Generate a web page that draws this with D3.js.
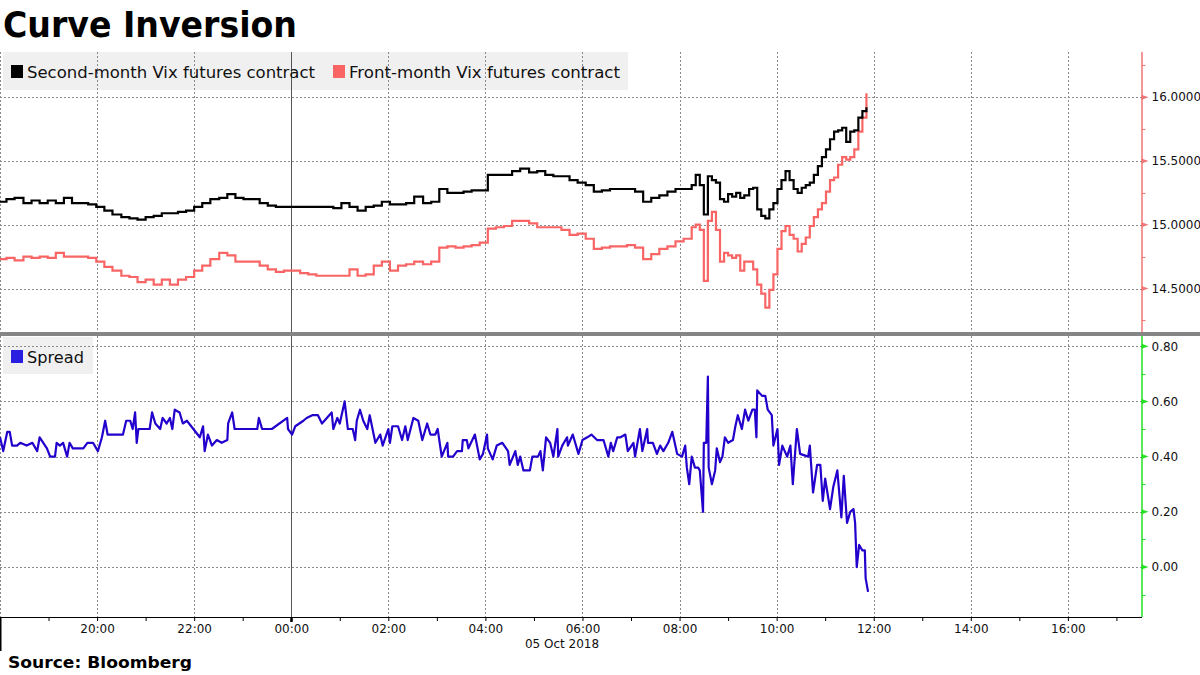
<!DOCTYPE html>
<html><head><meta charset="utf-8">
<script src="https://cdn.jsdelivr.net/npm/d3@7"></script>
<style>body{margin:0;background:#fff}svg{display:block}</style>
</head><body><svg id="c" width="1200" height="675"></svg>
<script>
// ---- DATA ----
const title = "Curve Inversion";
const sourceText = "Source: Bloomberg";
const seriesNames = ["Second-month Vix futures contract", "Front-month Vix futures contract"];
const spreadName = "Spread";
const dateLabel = "05 Oct 2018";

// shared timestamps for both futures series (times >= 17:00 are on 4 Oct, others on 5 Oct)
const futTimes = ["18:00","18:08","18:18","18:29","18:39","18:49","18:59","19:09","19:19","19:29","19:39","19:49","19:59",
"20:09","20:19","20:30","20:40","20:50","21:00","21:10","21:20","21:30","21:40","21:50","22:00","22:10","22:20","22:31","22:41","22:51",
"23:01","23:11","23:21","23:31","23:41","23:51","00:01","00:11","00:21","00:31","00:41","00:52","01:02","01:12","01:22","01:32","01:42","01:52",
"02:02","02:12","02:22","02:32","02:43","02:53","03:03","03:13","03:23","03:33","03:43","03:53","04:03","04:13","04:23","04:33","04:43","04:54",
"05:04","05:14","05:24","05:34","05:44","05:54","06:04","06:14","06:24","06:34","06:44","06:55","07:05","07:15","07:25","07:35","07:45","07:55",
"08:05","08:10","08:15","08:20","08:25","08:30","08:35","08:40","08:45","08:50","08:55","09:00","09:05","09:10","09:15","09:20",
"09:26","09:31","09:36","09:41","09:46","09:51","09:56","10:01","10:06","10:11","10:16","10:21","10:26","10:31","10:36","10:41","10:46","10:51","10:56",
"11:01","11:06","11:11","11:16","11:21","11:26","11:31","11:36","11:41","11:46","11:51"];

const secondMonth = [15.18,15.20,15.21,15.17,15.19,15.17,15.19,15.17,15.21,15.17,15.17,15.16,
15.14,15.11,15.08,15.06,15.05,15.04,
15.06,15.07,15.09,15.09,15.10,15.11,
15.14,15.17,15.20,15.21,15.24,15.21,
15.20,15.20,15.17,15.15,15.14,15.14,
15.14,15.14,15.14,15.14,15.14,15.13,
15.17,15.14,15.11,15.14,15.15,15.18,
15.16,15.16,15.17,15.22,15.17,15.18,
15.28,15.25,15.25,15.26,15.27,15.27,
15.39,15.39,15.39,15.42,15.44,15.41,
15.42,15.39,15.38,15.38,15.35,15.33,
15.31,15.26,15.27,15.28,15.28,15.28,
15.26,15.18,15.21,15.23,15.26,15.28,
15.28,15.28,15.31,15.39,15.31,15.08,15.38,15.35,15.33,15.20,15.18,15.24,15.22,15.25,15.21,15.23,
15.28,15.29,15.12,15.07,15.05,15.12,15.17,15.28,15.35,15.42,15.35,15.28,15.25,15.29,15.31,
15.33,15.39,15.46,15.53,15.59,15.67,15.73,15.74,15.76,15.65,15.73,15.74,15.84,15.89,15.92];

const frontMonth = [14.73,14.74,14.72,14.75,14.74,14.75,14.74,14.78,14.75,14.75,14.75,14.74,
14.71,14.67,14.64,14.60,14.59,14.55,
14.57,14.53,14.57,14.53,14.57,14.59,
14.64,14.68,14.73,14.78,14.76,14.71,
14.71,14.71,14.68,14.65,14.63,14.64,
14.64,14.62,14.61,14.60,14.60,14.60,
14.60,14.65,14.60,14.61,14.68,14.71,
14.64,14.68,14.69,14.71,14.69,14.71,
14.82,14.83,14.82,14.83,14.84,14.86,
14.97,14.98,14.99,15.03,15.03,15.01,
14.98,14.98,14.98,14.96,14.92,14.93,
14.89,14.81,14.82,14.83,14.83,14.84,
14.82,14.73,14.77,14.81,14.83,14.87,
14.89,14.89,14.98,15.00,14.96,14.56,15.03,15.10,14.96,14.71,14.78,14.76,14.74,14.76,14.64,14.71,
14.71,14.65,14.53,14.46,14.35,14.49,14.61,14.81,14.95,14.99,14.92,14.89,14.79,14.85,14.90,
14.99,15.06,15.12,15.17,15.26,15.35,15.37,15.47,15.53,15.51,15.53,15.59,15.73,15.84,16.03];

const spreadTimes = ["18:00","18:04","18:09","18:12","18:15","18:21","18:25","18:33","18:40","18:46",
"18:49","18:58","19:02","19:08","19:10","19:14","19:18","19:23","19:26","19:30",
"19:43","19:48","19:55","20:01","20:06","20:10","20:13","20:32","20:36","20:41",
"20:44","20:47","20:49","20:51","21:05","21:08","21:12","21:18","21:21","21:26",
"21:30","21:33","21:36","21:42","21:46","21:51","21:59","22:07","22:11","22:13",
"22:17","22:22","22:28","22:34","22:41","22:42","22:47","22:50","23:18","23:20",
"23:24","23:36","23:55","23:56","00:01","00:05","00:15","00:19","00:26","00:33",
"00:38","00:50","00:52","00:57","01:00","01:06","01:10","01:16","01:19","01:21",
"01:25","01:29","01:34","01:37","01:44","01:50","01:53","02:00","02:02","02:05",
"02:12","02:17","02:21","02:24","02:31","02:37","02:42","02:48","02:52","02:58",
"03:01","03:06","03:13","03:14","03:20","03:25","03:31","03:32","03:37","03:39",
"03:47","03:53","03:57","04:02","04:03","04:09","04:14","04:21","04:28","04:30",
"04:37","04:40","04:43","04:47","04:55","04:58","05:05","05:08","05:11","05:15",
"05:20","05:24","05:29","05:30","05:35","05:41","05:42","05:48","05:55","06:00",
"06:06","06:11","06:18","06:26","06:32","06:35","06:38","06:43","06:47","06:53",
"06:56","07:03","07:05","07:11","07:14","07:20","07:21","07:27","07:32","07:36",
"07:40","07:46","07:51","07:57","08:03","08:07","08:09","08:12","08:15","08:19",
"08:23","08:25","08:29","08:30","08:33","08:35","08:36","08:40","08:44","08:46",
"08:50","08:53","08:56","09:00","09:06","09:09","09:12","09:17","09:21","09:25",
"09:30","09:33","09:35","09:36","09:42","09:46","09:49","09:54","09:56","10:01",
"10:03","10:07","10:13","10:17","10:20","10:25","10:29","10:39","10:41","10:45",
"10:50","10:54","10:57","11:00","11:06","11:10","11:15","11:20","11:23","11:27",
"11:31","11:35","11:37","11:39","11:42","11:46","11:49","11:50","11:53"];

const spreadValues = [0.47,0.42,0.49,0.49,0.44,0.44,0.45,0.44,0.45,0.42,
0.47,0.43,0.40,0.40,0.45,0.44,0.45,0.40,0.45,0.43,
0.43,0.45,0.45,0.42,0.47,0.53,0.48,0.48,0.53,0.53,
0.50,0.56,0.45,0.50,0.50,0.56,0.52,0.50,0.54,0.52,
0.54,0.50,0.57,0.56,0.52,0.53,0.50,0.47,0.51,0.42,
0.48,0.44,0.46,0.45,0.46,0.52,0.56,0.50,0.50,0.54,
0.50,0.50,0.54,0.50,0.48,0.51,0.53,0.54,0.55,0.55,
0.52,0.56,0.50,0.54,0.52,0.60,0.50,0.50,0.46,0.53,
0.57,0.53,0.50,0.55,0.45,0.48,0.44,0.50,0.45,0.51,
0.51,0.46,0.51,0.46,0.54,0.53,0.46,0.52,0.48,0.48,
0.50,0.40,0.45,0.40,0.40,0.42,0.42,0.46,0.46,0.43,
0.48,0.39,0.41,0.48,0.43,0.39,0.44,0.45,0.42,0.37,
0.42,0.37,0.40,0.35,0.35,0.40,0.40,0.42,0.35,0.47,
0.45,0.40,0.50,0.40,0.44,0.47,0.44,0.48,0.41,0.46,
0.47,0.48,0.46,0.46,0.40,0.45,0.42,0.47,0.47,0.48,
0.42,0.45,0.40,0.50,0.42,0.50,0.45,0.45,0.41,0.44,
0.42,0.45,0.49,0.41,0.40,0.44,0.36,0.30,0.40,0.36,
0.36,0.35,0.20,0.45,0.45,0.69,0.36,0.30,0.35,0.43,
0.38,0.40,0.47,0.45,0.46,0.51,0.55,0.50,0.57,0.53,
0.57,0.57,0.47,0.64,0.62,0.62,0.57,0.55,0.44,0.50,
0.37,0.44,0.40,0.44,0.30,0.50,0.41,0.40,0.44,0.27,
0.37,0.37,0.24,0.32,0.21,0.29,0.35,0.18,0.33,0.16,
0.20,0.21,0.16,0.00,0.08,0.06,0.06,-0.04,-0.09];

const topTicks = [14.5, 15.0, 15.5, 16.0];
const topMinor = [14.25, 14.75, 15.25, 15.75, 16.25];
const bottomTicks = [0.0, 0.2, 0.4, 0.6, 0.8];
const bottomMinor = [-0.1, 0.1, 0.3, 0.5, 0.7];

// ---- STYLE / LAYOUT ----
const W = 1200, H = 675;
const plotL = 0, plotR = 1141.5;
const topT = 52, topB = 332, botT = 336, botB = 617;
const FONT = "'DejaVu Sans', sans-serif";
const cBlack = "#000000", cRed = "#f96565", cBlue = "#2400cc";
const cRedAxis = "#f07575", cGreenAxis = "#22e022", cGrid = "#8a8a8a";

const parseT = s => { const [h, m] = s.split(":").map(Number); return new Date(2018, 9, h >= 17 ? 4 : 5, h, m); };

const svg = d3.select("#c");
svg.append("rect").attr("width", W).attr("height", H).attr("fill", "#fff");

const x = d3.scaleTime().domain([new Date(2018, 9, 4, 18, 0), new Date(2018, 9, 5, 17, 31)]).range([plotL, plotR]);
const yTop = d3.scaleLinear().domain([14.159, 16.354]).range([topB, topT]);
const yBot = d3.scaleLinear().domain([-0.181, 0.8406]).range([botB, 346.2 - (0.8406 - 0.8) * 276]);

// clip paths
const defs = svg.append("defs");
defs.append("clipPath").attr("id", "clipTop").append("rect").attr("x", plotL).attr("y", topT).attr("width", plotR - plotL).attr("height", topB - topT);
defs.append("clipPath").attr("id", "clipBot").append("rect").attr("x", plotL).attr("y", botT).attr("width", plotR - plotL).attr("height", botB - botT);

// title
svg.append("text").attr("x", 3).attr("y", 37).attr("font-family", FONT).attr("font-weight", "bold")
  .attr("font-size", 35).attr("textLength", 294).attr("lengthAdjust", "spacingAndGlyphs").attr("fill", "#000").text(title);

// legend backgrounds
svg.append("rect").attr("x", 3).attr("y", topT).attr("width", 625).attr("height", 38).attr("fill", "#f0f0f0");
svg.append("rect").attr("x", 3).attr("y", 337).attr("width", 90).attr("height", 37).attr("fill", "#f0f0f0");

// grid
const grid = svg.append("g").attr("shape-rendering", "crispEdges");
const hours = x.ticks(d3.timeHour.every(1));
const evenHours = hours.filter(d => d.getHours() % 2 === 0);
evenHours.forEach(d => {
  const px = Math.round(x(d)) + 0.5;
  const midnight = d.getHours() === 0;
  grid.append("line").attr("x1", px).attr("x2", px).attr("y1", topT).attr("y2", botB)
    .attr("stroke", midnight ? "#555" : cGrid).attr("stroke-width", 1)
    .attr("stroke-dasharray", midnight ? null : "2,2");
});
topTicks.forEach(v => {
  const py = Math.round(yTop(v)) + 0.5;
  grid.append("line").attr("x1", plotL).attr("x2", plotR).attr("y1", py).attr("y2", py)
    .attr("stroke", cGrid).attr("stroke-dasharray", "2,2");
});
bottomTicks.forEach(v => {
  const py = Math.round(yBot(v)) + 0.5;
  grid.append("line").attr("x1", plotL).attr("x2", plotR).attr("y1", py).attr("y2", py)
    .attr("stroke", cGrid).attr("stroke-dasharray", "2,2");
});

// series
const futData = futTimes.map((t, i) => ({ t: parseT(t), a: secondMonth[i], b: frontMonth[i] }));
const lineA = d3.line().x(d => x(d.t)).y(d => yTop(d.a)).curve(d3.curveStepAfter);
const lineB = d3.line().x(d => x(d.t)).y(d => yTop(d.b)).curve(d3.curveStepAfter);
const gTop = svg.append("g").attr("clip-path", "url(#clipTop)");
gTop.append("path").datum(futData).attr("d", lineB).attr("fill", "none").attr("stroke", cRed).attr("stroke-width", 2.2).attr("stroke-linejoin", "miter");
gTop.append("path").datum(futData).attr("d", lineA).attr("fill", "none").attr("stroke", cBlack).attr("stroke-width", 2.2).attr("stroke-linejoin", "miter");

const spreadData = spreadTimes.map((t, i) => ({ t: parseT(t), v: spreadValues[i] }));
const lineS = d3.line().x(d => x(d.t)).y(d => yBot(d.v));
svg.append("g").attr("clip-path", "url(#clipBot)").append("path").datum(spreadData).attr("d", lineS)
  .attr("fill", "none").attr("stroke", cBlue).attr("stroke-width", 2.2).attr("stroke-linejoin", "round");

// legends
const leg = svg.append("g").attr("font-family", FONT).attr("font-size", 16.5).attr("fill", "#111");
leg.append("rect").attr("x", 11).attr("y", 65).attr("width", 12).attr("height", 13).attr("fill", cBlack);
leg.append("text").attr("x", 27).attr("y", 78).attr("textLength", 288).attr("lengthAdjust", "spacingAndGlyphs").text(seriesNames[0]);
leg.append("rect").attr("x", 333).attr("y", 65).attr("width", 12).attr("height", 13).attr("fill", cRed);
leg.append("text").attr("x", 349).attr("y", 78).attr("textLength", 271).attr("lengthAdjust", "spacingAndGlyphs").text(seriesNames[1]);
leg.append("rect").attr("x", 11).attr("y", 350).attr("width", 12).attr("height", 13).attr("fill", "#2a1ee0");
leg.append("text").attr("x", 27).attr("y", 363).attr("textLength", 57).attr("lengthAdjust", "spacingAndGlyphs").text(spreadName);

// separator
svg.append("rect").attr("x", 0).attr("y", topB).attr("width", W).attr("height", botT - topB).attr("fill", "#858585");

// right axes
function rightAxis(scale, y0, y1, color, ticks, minor, fmt) {
  const g = svg.append("g");
  g.append("line").attr("x1", plotR + 0.5).attr("x2", plotR + 0.5).attr("y1", y0).attr("y2", y1)
    .attr("stroke", color).attr("stroke-width", 1.5);
  minor.forEach(v => {
    const py = Math.round(scale(v)) + 0.5;
    g.append("line").attr("x1", plotR).attr("x2", plotR + 4).attr("y1", py).attr("y2", py).attr("stroke", color).attr("stroke-width", 1);
  });
  ticks.forEach(v => {
    const py = scale(v);
    g.append("path").attr("d", `M${plotR},${py - 2.5}L${plotR + 7},${py}L${plotR},${py + 2.5}Z`).attr("fill", color);
    g.append("text").attr("x", plotR + 10).attr("y", py).attr("dy", "0.36em").attr("font-family", FONT)
      .attr("font-size", 12).attr("fill", "#111").text(fmt(v));
  });
}
rightAxis(yTop, topT, topB, cRedAxis, topTicks, topMinor, d3.format(".4f"));
rightAxis(yBot, botT, botB, cGreenAxis, bottomTicks, bottomMinor, d3.format(".2f"));

// x axis
const xAxis = d3.axisBottom(x).ticks(d3.timeHour.every(1)).tickSize(4).tickSizeOuter(0)
  .tickFormat(d => (d.getHours() % 2 === 0 && +d !== +x.domain()[0]) ? d3.timeFormat("%H:%M")(d) : "");
const gx = svg.append("g").attr("transform", `translate(0,${botB})`).call(xAxis);
gx.select(".domain").attr("stroke", "#000").attr("stroke-width", 1.2);
gx.selectAll(".tick line").attr("stroke", "#000");
gx.selectAll(".tick text").attr("font-family", FONT).attr("font-size", 12).attr("fill", "#111");
// day boundary marks
const mid = new Date(2018, 9, 5, 0, 0);
svg.append("rect").attr("x", x(mid) - 1).attr("y", botB).attr("width", 2.5).attr("height", 5).attr("fill", "#000");
svg.append("line").attr("x1", 0.75).attr("x2", 0.75).attr("y1", botB).attr("y2", 651).attr("stroke", "#000").attr("stroke-width", 1.5);
svg.append("text").attr("x", 562).attr("y", 648).attr("text-anchor", "middle").attr("font-family", FONT)
  .attr("font-size", 12).attr("fill", "#111").text(dateLabel);

// source
svg.append("text").attr("x", 8).attr("y", 668).attr("font-family", FONT).attr("font-weight", "bold")
  .attr("font-size", 16).attr("textLength", 184).attr("lengthAdjust", "spacingAndGlyphs").attr("fill", "#000").text(sourceText);
</script></body></html>
